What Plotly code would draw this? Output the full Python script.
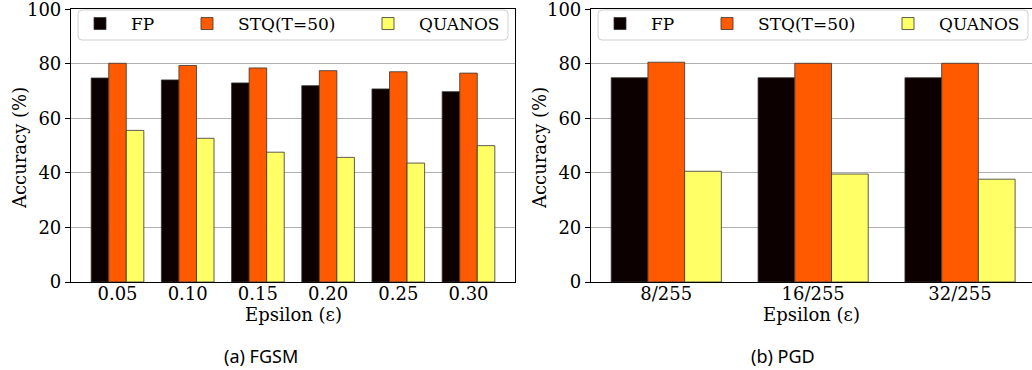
import plotly.graph_objects as go

# ---- data ----
fgsm_eps = ["0.05", "0.10", "0.15", "0.20", "0.25", "0.30"]
fgsm_fp = [74.8, 74.1, 73.0, 72.0, 70.8, 69.8]
fgsm_stq = [80.2, 79.4, 78.5, 77.5, 77.1, 76.6]
fgsm_quanos = [55.6, 52.7, 47.6, 45.7, 43.6, 50.0]

pgd_eps = ["8/255", "16/255", "32/255"]
pgd_fp = [74.9, 74.9, 74.9]
pgd_stq = [80.6, 80.2, 80.2]
pgd_quanos = [40.6, 39.6, 37.7]

series_names = ["FP", "STQ(T=50)", "QUANOS"]
colors = ["#0c0000", "#ff5a00", "#ffff66"]
y_ticks = [0, 20, 40, 60, 80, 100]

W, H = 1032, 370
FONT = "DejaVu Serif"

fig = go.Figure()

left = [fgsm_fp, fgsm_stq, fgsm_quanos]
right = [pgd_fp, pgd_stq, pgd_quanos]

# legend text start positions (px) for each panel
text_starts_left = [133, 240, 421]
panel_offset = 520

for i, (name, col) in enumerate(zip(series_names, colors)):
    fig.add_trace(go.Bar(
        x=fgsm_eps, y=left[i], name=name, marker=dict(color=col, line=dict(color="#333333", width=0.8)),
        xaxis="x", yaxis="y", legend="legend" if i == 0 else f"legend{i+1}", showlegend=True,
    ))
for i, (name, col) in enumerate(zip(series_names, colors)):
    fig.add_trace(go.Bar(
        x=pgd_eps, y=right[i], name=name, marker=dict(color=col, line=dict(color="#333333", width=0.8)),
        xaxis="x2", yaxis="y2", legend=f"legend{i+4}", showlegend=True,
    ))

ytop = 9.3
ybot = 282.0
dom_y = [1 - ybot / H, 1 - ytop / H]

axis_common = dict(
    showline=True, linecolor="black", linewidth=1.2, automargin=False,
    ticklabeloverflow="allow",
    tickfont=dict(family=FONT, size=18, color="black"),
)

legends = {}
itemw = 52
for p in range(2):
    for i in range(3):
        idx = p * 3 + i
        key = "legend" if idx == 0 else f"legend{idx+1}"
        tx = text_starts_left[i] + p * panel_offset
        legends[key] = dict(
            x=(tx - itemw - 12) / W, xanchor="left",
            y=1 - 24 / H, yanchor="middle",
            orientation="h", bgcolor="rgba(0,0,0,0)", borderwidth=0,
            font=dict(family=FONT, size=17, color="black"),
            itemwidth=itemw, itemclick=False,
        )

fig.update_layout(
    template="none",
    width=W, height=H,
    margin=dict(l=0, r=0, t=0, b=0, autoexpand=False),
    paper_bgcolor="white", plot_bgcolor="white",
    barmode="group", bargap=0.25, bargroupgap=0,
    xaxis=dict(type="category", domain=[71 / W, 515 / W], range=[-0.6625, 5.6625], anchor="y",
               mirror=True, ticks="", ticklabelstandoff=-5, showgrid=False, zeroline=False, **axis_common),
    yaxis=dict(domain=dom_y, range=[0, 100], anchor="x", tickvals=y_ticks,
               mirror=True, ticks="outside", ticklen=5, tickwidth=1, tickcolor="black",
               showgrid=True, gridcolor="#b0b0b0", gridwidth=1, layer="above traces",
               zeroline=False, **axis_common),
    xaxis2=dict(type="category", domain=[591 / W, 1.0], range=[-0.5125, 2.49], anchor="y2",
                mirror=True, ticks="", ticklabelstandoff=-5, showgrid=False, zeroline=False, **axis_common),
    yaxis2=dict(domain=dom_y, range=[0, 100], anchor="x2", tickvals=y_ticks,
                mirror=False, ticks="outside", ticklen=5, tickwidth=1, tickcolor="black",
                showgrid=True, gridcolor="#b0b0b0", gridwidth=1, layer="above traces",
                zeroline=False, **axis_common),
    **legends,
)


def px(x):
    return x / W


def py(y):
    return 1 - y / H


# legend frames
for p in range(2):
    x0 = 78 + p * panel_offset
    x1 = 508 + p * panel_offset
    y0, y1 = 10, 40
    r = 4
    path_p = (f"M {px(x0+r)},{py(y0)} L {px(x1-r)},{py(y0)} Q {px(x1)},{py(y0)} {px(x1)},{py(y0+r)} "
              f"L {px(x1)},{py(y1-r)} Q {px(x1)},{py(y1)} {px(x1-r)},{py(y1)} "
              f"L {px(x0+r)},{py(y1)} Q {px(x0)},{py(y1)} {px(x0)},{py(y1-r)} "
              f"L {px(x0)},{py(y0+r)} Q {px(x0)},{py(y0)} {px(x0+r)},{py(y0)} Z")
    fig.add_shape(type="path", path=path_p, xref="paper", yref="paper",
                  line=dict(color="#d0d0d0", width=1), fillcolor="rgba(255,255,255,0.8)", layer="above")

# axis titles and captions
annots = [
    dict(text="Accuracy (%)", x=19, y=148, textangle=-90, size=18, family=FONT),
    dict(text="Accuracy (%)", x=539, y=148, textangle=-90, size=18, family=FONT),
    dict(text="Epsilon (ε)", x=293, y=314, textangle=0, size=18, family=FONT),
    dict(text="Epsilon (ε)", x=811, y=314, textangle=0, size=18, family=FONT),
    dict(text="(a) FGSM", x=261, y=356, textangle=0, size=18, family="Noto Sans"),
    dict(text="(b) PGD", x=783, y=356, textangle=0, size=18, family="Noto Sans"),
]
for a in annots:
    fig.add_annotation(text=a["text"], x=px(a["x"]), y=py(a["y"]), xref="paper", yref="paper",
                       xanchor="center", yanchor="middle", showarrow=False, textangle=a["textangle"],
                       font=dict(family=a["family"], size=a["size"], color="black"))

fig.write_html("out.html", config={"displayModeBar": False},
               post_script="document.body.style.margin='0';")
